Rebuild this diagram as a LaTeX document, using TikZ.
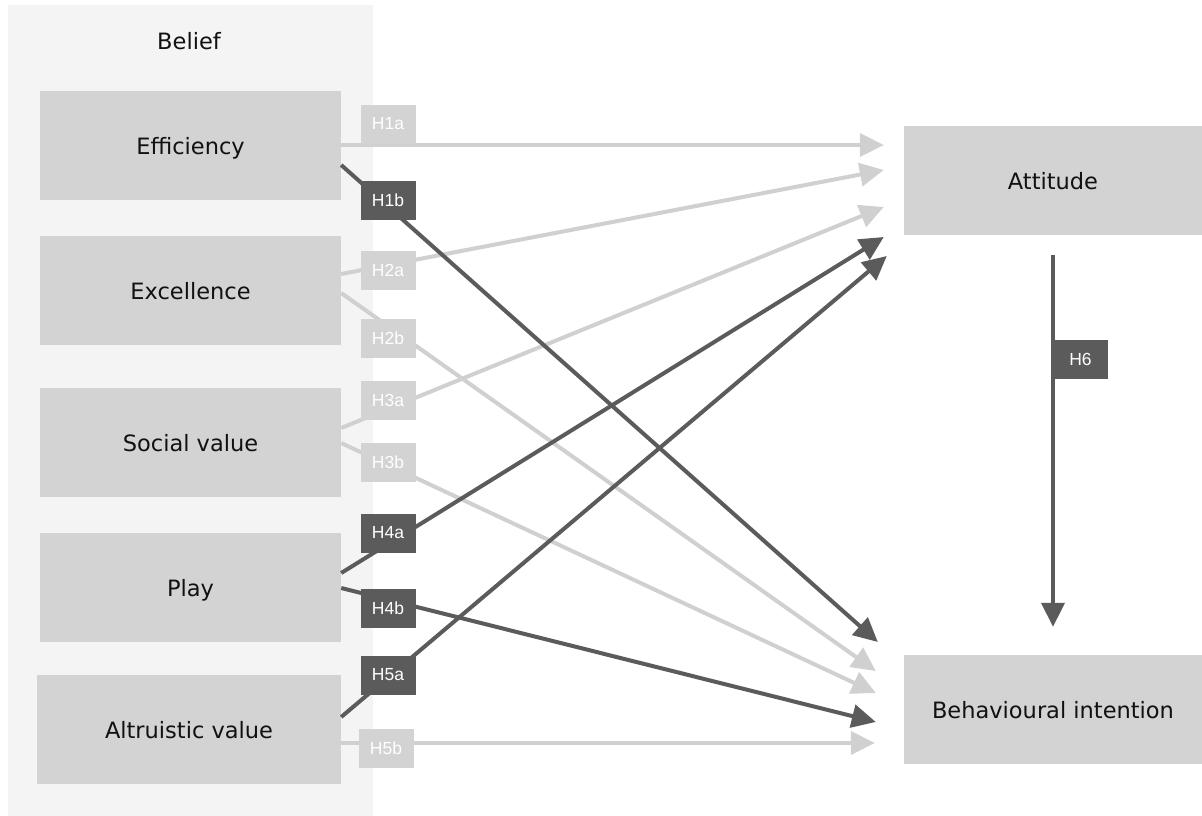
\documentclass[tikz,border=0pt]{standalone}
\usepackage{fontspec}
\setmainfont{DejaVu Sans}
\newfontfamily\labelfont{Liberation Sans}
\usetikzlibrary{arrows.meta}
\definecolor{panelgray}{HTML}{F4F4F4}
\definecolor{boxgray}{HTML}{D3D3D3}
\definecolor{lightline}{HTML}{D0D0D0}
\definecolor{darkline}{HTML}{5B5B5B}
\definecolor{textdark}{HTML}{111111}
\tikzset{
  bigtext/.style={text=textdark, font=\fontsize{22.5}{26}\selectfont,
    text height=18pt, text depth=0pt},
  construct/.style={bigtext, fill=boxgray, draw=none, minimum width=301pt,
    minimum height=109pt, inner sep=0pt},
  outcome/.style={construct, minimum width=298pt},
  hyplight/.style={fill=boxgray, draw=none, minimum width=55pt, minimum height=39pt,
    inner sep=0pt, text=white, font=\labelfont\fontsize{17.5}{20}\selectfont},
  hypdark/.style={hyplight, fill=darkline},
  pathlight/.style={draw=lightline, line width=4pt, -{Triangle[length=24pt,width=23pt]}},
  pathdark/.style={draw=darkline, line width=4pt, -{Triangle[length=24pt,width=23pt]}},
}
\begin{document}
\begin{tikzpicture}[x=1pt, y=-1pt]
\useasboundingbox (0,0) rectangle (1202,816);
% belief panel
\fill[panelgray] (8,5) rectangle (373,816);
\node[bigtext, inner sep=0pt] (belief) at (189,41) {Belief};
% belief constructs
\node[construct] (eff) at (190.5,145.5) {Efficiency};
\node[construct] (exc) at (190.5,290.5) {Excellence};
\node[construct] (soc) at (190.5,442) {Social value};
\node[construct] (play) at (190.5,587.5) {Play};
\node[construct, minimum width=304pt] (alt) at (189,729.5) {Altruistic value};
% outcomes
\node[outcome] (att) at (1053,180.5) {Attitude};
\node[outcome] (beh) at (1053,709.5) {Behavioural intention};
% paths to attitude / intention (light ones first)
\draw[pathlight] ([shift={(0,-0.5)}]eff.east) -- ([shift={(-20,-35.5)}]att.west);
\draw[pathlight] ([shift={(0,-16.5)}]exc.east) -- ([shift={(-20,-10.5)}]att.west);
\draw[pathlight] ([shift={(0,-14)}]soc.east) -- ([shift={(-20,26.5)}]att.west);
\draw[pathlight] ([shift={(0,2.5)}]exc.east) -- ([shift={(-28,-38.5)}]beh.west);
\draw[pathlight] ([shift={(0,1)}]soc.east) -- ([shift={(-28,-16.5)}]beh.west);
\draw[pathlight] ([shift={(0,13.5)}]alt.east) -- ([shift={(-29,33.5)}]beh.west);
\draw[pathdark] ([shift={(0,19.5)}]eff.east) -- ([shift={(-26,-67.5)}]beh.west);
\draw[pathdark] ([shift={(0,-14.5)}]play.east) -- ([shift={(-20,56.5)}]att.west);
\draw[pathdark] ([shift={(0,0.5)}]play.east) -- ([shift={(-28,12.5)}]beh.west);
\draw[pathdark] ([shift={(0,-12.5)}]alt.east) -- ([shift={(-17,75.5)}]att.west);
\draw[pathdark] ([shift={(0,20)}]att.south) -- ([shift={(0,-28)}]beh.north);
% hypothesis labels
\node[hyplight] (h1a) at (388,124) {H1a};
\node[hypdark]  (h1b) at (388,200) {H1b};
\node[hyplight] (h2a) at (388,270) {H2a};
\node[hyplight] (h2b) at (388,338) {H2b};
\node[hyplight] (h3a) at (388,400) {H3a};
\node[hyplight] (h3b) at (388,462) {H3b};
\node[hypdark]  (h4a) at (388,533) {H4a};
\node[hypdark]  (h4b) at (388,608) {H4b};
\node[hypdark]  (h5a) at (388,675) {H5a};
\node[hyplight] (h5b) at (386,748) {H5b};
\node[hypdark]  (h6)  at (1080.5,359.5) {H6};
\end{tikzpicture}
\end{document}
